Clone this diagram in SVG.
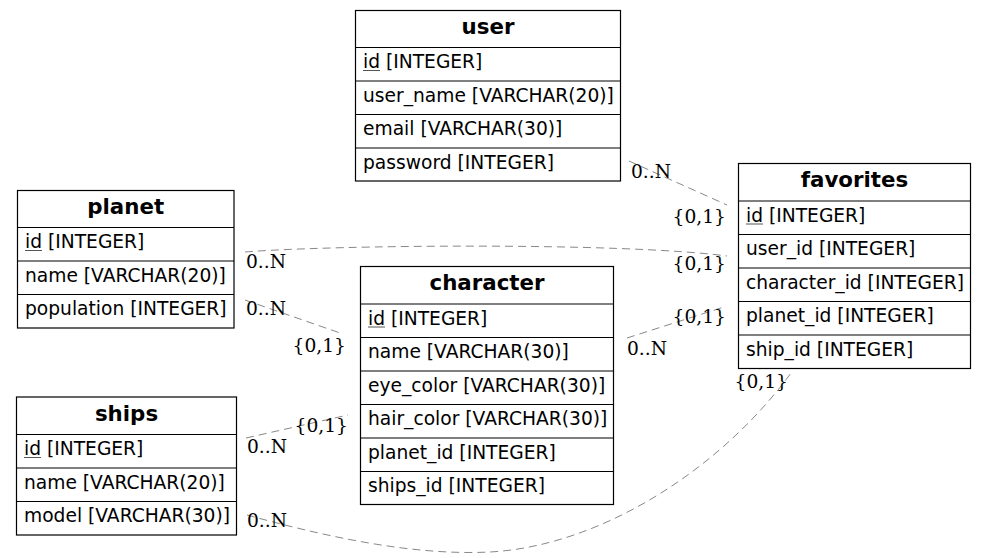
<svg xmlns="http://www.w3.org/2000/svg" width="985" height="558" viewBox="0 0 985 558">
<style>
.box{fill:#fff;stroke:#000;stroke-width:1.2}
.sep{stroke:#000;stroke-width:1.2}
.hdr{font-family:"DejaVu Sans",sans-serif;font-weight:bold;font-size:21.33px;text-anchor:middle;fill:#000}
.fld{font-family:"DejaVu Sans",sans-serif;font-size:18.67px;fill:#000}
.ul{stroke:#555;stroke-width:1}
.edge{fill:none;stroke:#888;stroke-width:1;stroke-dasharray:8,5}
.lbl{font-family:"DejaVu Serif",serif;font-size:18.67px;fill:#000}
.end{text-anchor:end}
</style>
<rect width="985" height="558" fill="#fff"/>
<g id="connectors">
<path class="edge" d="M629,161 L727,205"/>
<path class="edge" d="M245,252 C330,245 620,242 727,256"/>
<path class="edge" d="M245,300 L343,334"/>
<path class="edge" d="M627,338 L724,307"/>
<path class="edge" d="M246,438 L348,415"/>
<path class="edge" d="M247,515 C320,535 410,556 490,552 C600,546 720,470 791,373"/>
<text class="lbl" x="631" y="178">0..N</text>
<text class="lbl end" x="726" y="223">{0,1}</text>
<text class="lbl" x="246" y="268">0..N</text>
<text class="lbl end" x="726" y="270">{0,1}</text>
<text class="lbl" x="246" y="315">0..N</text>
<text class="lbl end" x="346" y="352">{0,1}</text>
<text class="lbl" x="627" y="355">0..N</text>
<text class="lbl end" x="726" y="323">{0,1}</text>
<text class="lbl" x="247" y="453">0..N</text>
<text class="lbl end" x="348" y="432">{0,1}</text>
<text class="lbl" x="247" y="527">0..N</text>
<text class="lbl end" x="788" y="388">{0,1}</text>
</g>
<g id="user">
<rect class="box" x="355.5" y="10.5" width="265" height="170.5"/>
<line class="sep" x1="355.5" y1="47.5" x2="620.5" y2="47.5"/>
<line class="sep" x1="355.5" y1="81" x2="620.5" y2="81"/>
<line class="sep" x1="355.5" y1="114.5" x2="620.5" y2="114.5"/>
<line class="sep" x1="355.5" y1="148" x2="620.5" y2="148"/>
<text class="hdr" x="488" y="33.5">user</text>
<text class="fld" x="363" y="68">id [INTEGER]</text>
<line class="ul" x1="363" y1="70.5" x2="380" y2="70.5"/>
<text class="fld" x="363" y="101.5">user_name [VARCHAR(20)]</text>
<text class="fld" x="363" y="135">email [VARCHAR(30)]</text>
<text class="fld" x="363" y="168.5">password [INTEGER]</text>
</g>
<g id="planet">
<rect class="box" x="17.5" y="190.5" width="216.5" height="137.5"/>
<line class="sep" x1="17.5" y1="227.5" x2="234" y2="227.5"/>
<line class="sep" x1="17.5" y1="261" x2="234" y2="261"/>
<line class="sep" x1="17.5" y1="294.5" x2="234" y2="294.5"/>
<text class="hdr" x="125.7" y="213.5">planet</text>
<text class="fld" x="25" y="248">id [INTEGER]</text>
<line class="ul" x1="25" y1="250.5" x2="42" y2="250.5"/>
<text class="fld" x="25" y="281.5">name [VARCHAR(20)]</text>
<text class="fld" x="25" y="315">population [INTEGER]</text>
</g>
<g id="character">
<rect class="box" x="360.5" y="266.5" width="253" height="238"/>
<line class="sep" x1="360.5" y1="304" x2="613.5" y2="304"/>
<line class="sep" x1="360.5" y1="337.5" x2="613.5" y2="337.5"/>
<line class="sep" x1="360.5" y1="371" x2="613.5" y2="371"/>
<line class="sep" x1="360.5" y1="404.5" x2="613.5" y2="404.5"/>
<line class="sep" x1="360.5" y1="438" x2="613.5" y2="438"/>
<line class="sep" x1="360.5" y1="471.5" x2="613.5" y2="471.5"/>
<text class="hdr" x="487" y="290">character</text>
<text class="fld" x="368" y="324.5">id [INTEGER]</text>
<line class="ul" x1="368" y1="327" x2="385" y2="327"/>
<text class="fld" x="368" y="358">name [VARCHAR(30)]</text>
<text class="fld" x="368" y="391.5">eye_color [VARCHAR(30)]</text>
<text class="fld" x="368" y="425">hair_color [VARCHAR(30)]</text>
<text class="fld" x="368" y="458.5">planet_id [INTEGER]</text>
<text class="fld" x="368" y="492">ships_id [INTEGER]</text>
</g>
<g id="favorites">
<rect class="box" x="738.5" y="163.5" width="232" height="205"/>
<line class="sep" x1="738.5" y1="201" x2="970.5" y2="201"/>
<line class="sep" x1="738.5" y1="234.5" x2="970.5" y2="234.5"/>
<line class="sep" x1="738.5" y1="268" x2="970.5" y2="268"/>
<line class="sep" x1="738.5" y1="301.5" x2="970.5" y2="301.5"/>
<line class="sep" x1="738.5" y1="335" x2="970.5" y2="335"/>
<text class="hdr" x="854.5" y="187">favorites</text>
<text class="fld" x="746" y="221.5">id [INTEGER]</text>
<line class="ul" x1="746" y1="224" x2="763" y2="224"/>
<text class="fld" x="746" y="255">user_id [INTEGER]</text>
<text class="fld" x="746" y="288.5">character_id [INTEGER]</text>
<text class="fld" x="746" y="322">planet_id [INTEGER]</text>
<text class="fld" x="746" y="355.5">ship_id [INTEGER]</text>
</g>
<g id="ships">
<rect class="box" x="16.5" y="397" width="220" height="138"/>
<line class="sep" x1="16.5" y1="434.5" x2="236.5" y2="434.5"/>
<line class="sep" x1="16.5" y1="468" x2="236.5" y2="468"/>
<line class="sep" x1="16.5" y1="501.5" x2="236.5" y2="501.5"/>
<text class="hdr" x="126.5" y="420.5">ships</text>
<text class="fld" x="24" y="455">id [INTEGER]</text>
<line class="ul" x1="24" y1="457.5" x2="41" y2="457.5"/>
<text class="fld" x="24" y="488.5">name [VARCHAR(20)]</text>
<text class="fld" x="24" y="522">model [VARCHAR(30)]</text>
</g>
</svg>
